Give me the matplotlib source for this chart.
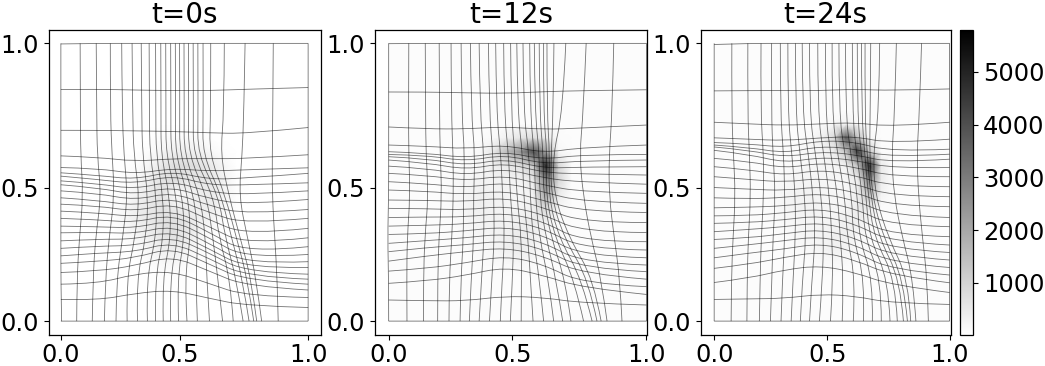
import numpy as np
import matplotlib
matplotlib.use("Agg")
import matplotlib.pyplot as plt
from matplotlib.path import Path
from matplotlib.patches import PathPatch

titles = ["t=0s", "t=12s", "t=24s"]
stations = [0, .15, .3, .45, .6, .75, 1]
tick_pos = [0, .48, 1]
tick_labels = ["0.0", "0.5", "1.0"]

# horizontal mesh lines: y at each x station
h_t0 = [
 [.998,1.0,1.0,1.0,1.0,1.0,1.0],
 [.834,.835,.832,.83,.83,.835,.841],
 [.687,.687,.685,.683,.678,.675,.697],
 [.595,.59,.575,.585,.585,.585,.599],
 [.553,.55,.53,.55,.54,.545,.552],
 [.534,.525,.51,.54,.51,.515,.532],
 [.522,.51,.495,.525,.49,.49,.498],
 [.505,.495,.475,.505,.465,.455,.469],
 [.491,.48,.455,.485,.44,.42,.438],
 [.469,.46,.435,.465,.415,.385,.402],
 [.444,.435,.415,.445,.39,.35,.370],
 [.421,.415,.395,.425,.365,.31,.334],
 [.396,.39,.375,.40,.34,.275,.300],
 [.370,.365,.355,.385,.32,.245,.268],
 [.342,.34,.335,.365,.30,.225,.240],
 [.318,.32,.315,.345,.28,.205,.214],
 [.289,.295,.295,.325,.26,.19,.193],
 [.262,.27,.272,.305,.245,.175,.169],
 [.235,.245,.25,.285,.225,.16,.151],
 [.208,.215,.228,.265,.205,.145,.133],
 [.175,.18,.20,.235,.18,.125,.112],
 [.133,.135,.17,.18,.135,.09,.085],
 [.078,.075,.10,.112,.082,.055,.049],
 [0,0,0,0,0,0,0],
]
h_t12 = [
 [.999,1.0,1.0,1.0,1.0,1.0,1.0],
 [.825,.825,.822,.82,.826,.83,.833],
 [.699,.692,.692,.70,.69,.695,.706],
 [.634,.63,.62,.635,.605,.626,.634],
 [.61,.605,.587,.611,.581,.60,.60],
 [.60,.597,.575,.60,.565,.578,.58],
 [.592,.585,.56,.585,.55,.555,.556],
 [.58,.57,.545,.57,.535,.53,.526],
 [.558,.55,.525,.55,.515,.50,.493],
 [.532,.525,.505,.525,.49,.465,.46],
 [.502,.495,.48,.50,.465,.43,.424],
 [.472,.468,.455,.47,.435,.395,.391],
 [.436,.435,.43,.445,.41,.355,.355],
 [.406,.405,.40,.415,.385,.32,.319],
 [.373,.375,.375,.39,.36,.285,.286],
 [.342,.345,.35,.365,.335,.26,.256],
 [.312,.315,.325,.34,.31,.235,.228],
 [.28,.29,.30,.315,.285,.21,.202],
 [.25,.265,.275,.29,.26,.19,.178],
 [.216,.235,.25,.265,.235,.17,.151],
 [.18,.19,.21,.235,.205,.135,.124],
 [.136,.145,.165,.195,.165,.12,.096],
 [.076,.073,.073,.09,.085,.065,.058],
 [0,0,0,0,0,0,0],
]
h_t24 = [
 [.996,1.0,1.0,1.0,1.0,1.0,1.0],
 [.829,.83,.83,.83,.835,.83,.836],
 [.716,.71,.705,.71,.715,.70,.716],
 [.66,.655,.65,.66,.665,.64,.655],
 [.643,.638,.625,.65,.645,.61,.619],
 [.634,.625,.605,.63,.62,.59,.601],
 [.627,.615,.59,.61,.60,.57,.583],
 [.615,.60,.57,.59,.58,.55,.553],
 [.586,.575,.55,.57,.555,.52,.52],
 [.556,.545,.525,.545,.525,.485,.484],
 [.52,.51,.50,.515,.495,.45,.448],
 [.481,.475,.47,.485,.465,.415,.412],
 [.444,.44,.445,.46,.435,.38,.373],
 [.408,.41,.415,.43,.405,.345,.34],
 [.379,.38,.39,.405,.375,.31,.304],
 [.352,.355,.365,.38,.35,.285,.274],
 [.322,.33,.34,.355,.325,.26,.247],
 [.294,.30,.315,.33,.30,.235,.22],
 [.262,.275,.29,.305,.275,.21,.193],
 [.228,.245,.26,.28,.25,.185,.166],
 [.19,.205,.23,.25,.22,.165,.138],
 [.139,.155,.185,.20,.175,.13,.103],
 [.078,.08,.082,.097,.09,.065,.06],
 [0,0,0,0,0,0,0],
]

# vertical mesh lines: x at each y station (rows ordered by y station)
v_t0 = [
 [.003,.064,.127,.176,.223,.268,.31,.35,.383,.414,.444,.476,.51,.552,.601,.654,.697,.737,.761,.78,.792,.812,.879,1],
 [0,.065,.13,.18,.225,.265,.305,.345,.38,.41,.44,.47,.50,.545,.59,.635,.685,.71,.735,.755,.77,.79,.875,1],
 [0,.075,.14,.195,.25,.30,.345,.385,.415,.445,.475,.50,.525,.555,.585,.615,.64,.665,.69,.71,.725,.755,.865,1],
 [0,.09,.163,.217,.27,.318,.353,.387,.414,.44,.468,.492,.515,.539,.563,.59,.617,.638,.65,.665,.68,.72,.855,1],
 [0,.08,.147,.207,.255,.295,.33,.36,.385,.405,.425,.445,.463,.48,.498,.516,.535,.553,.573,.60,.645,.733,.855,1],
 [0,.079,.145,.2,.248,.29,.327,.358,.384,.405,.425,.445,.464,.481,.499,.517,.536,.555,.576,.606,.66,.74,.857,1],
 [0,.078,.143,.2,.246,.288,.325,.357,.383,.404,.424,.444,.463,.48,.498,.516,.535,.554,.575,.606,.661,.745,.859,1],
]
v_t12 = [
 [0,.071,.135,.19,.234,.277,.313,.351,.391,.433,.472,.514,.56,.601,.64,.675,.707,.756,.789,.808,.824,.847,.905,1],
 [0,.07,.135,.19,.235,.28,.32,.36,.40,.44,.48,.515,.55,.585,.62,.65,.685,.72,.75,.775,.795,.825,.897,1],
 [-.004,.072,.14,.195,.245,.29,.33,.37,.41,.45,.485,.515,.54,.56,.585,.61,.63,.645,.66,.68,.70,.785,.875,1],
 [0,.083,.154,.206,.251,.29,.329,.368,.407,.442,.472,.497,.523,.549,.569,.585,.60,.61,.62,.63,.642,.755,.855,1],
 [0,.078,.145,.20,.25,.295,.335,.37,.405,.435,.465,.49,.52,.545,.565,.585,.60,.615,.625,.63,.637,.74,.855,1],
 [0,.077,.143,.197,.243,.283,.32,.354,.39,.418,.448,.475,.5,.523,.549,.567,.585,.60,.614,.638,.675,.755,.867,1],
 [0,.078,.142,.196,.242,.281,.317,.351,.387,.415,.446,.473,.497,.521,.547,.565,.584,.601,.614,.641,.687,.766,.873,1],
]
v_t24 = [
 [0,.072,.139,.192,.239,.284,.327,.366,.405,.447,.494,.544,.591,.634,.672,.71,.747,.778,.804,.821,.835,.857,.91,1],
 [0,.073,.14,.195,.245,.29,.335,.375,.415,.46,.505,.55,.60,.64,.675,.71,.74,.77,.79,.805,.825,.845,.905,1],
 [0,.08,.145,.20,.25,.30,.345,.39,.43,.465,.50,.535,.565,.59,.615,.64,.66,.68,.70,.72,.74,.80,.885,1],
 [0,.09,.155,.21,.26,.30,.345,.385,.42,.455,.49,.525,.555,.585,.61,.63,.645,.655,.665,.672,.685,.764,.868,1],
 [0,.082,.15,.21,.25,.295,.33,.365,.40,.43,.465,.495,.525,.555,.58,.605,.625,.64,.65,.66,.675,.754,.861,1],
 [0,.074,.142,.197,.243,.281,.313,.346,.375,.405,.44,.472,.50,.53,.558,.587,.608,.626,.64,.663,.70,.767,.872,1],
 [0,.075,.143,.199,.244,.281,.313,.345,.374,.405,.44,.473,.501,.53,.558,.587,.608,.626,.641,.665,.703,.774,.881,1],
]

# density read from the shading, on a coarse grid
dens_x = [.21,.26,.31,.36,.41,.46,.51,.56,.61,.66,.71,.76,.81]
dens_y = [.16,.21,.26,.31,.36,.41,.46,.51,.56,.61,.66,.71,.76]
bg = [10, 100, 100]
d_t0 = [
 [10,10,10,20,40,50,20,10,10,10,10,10,10],
 [10,10,30,80,150,180,120,40,10,10,10,10,10],
 [10,40,90,200,350,380,280,120,30,10,10,10,10],
 [30,100,220,380,600,700,520,220,70,20,10,10,10],
 [50,170,350,500,700,750,580,350,200,70,15,10,10],
 [60,180,400,520,650,400,350,350,400,180,30,10,10],
 [40,110,300,480,600,100,250,350,480,280,60,10,10],
 [20,50,190,400,650,800,500,600,550,300,50,10,10],
 [10,25,90,250,520,750,780,680,480,200,30,10,10],
 [10,10,30,110,240,380,400,320,180,60,10,10,10],
 [10,10,10,30,80,110,110,90,50,15,10,10,10],
 [10,10,10,10,10,20,20,20,10,10,10,10,10],
 [10,10,10,10,10,10,10,10,10,10,10,10,10],
]
d_t12 = [
 [100,100,100,100,100,100,100,100,100,100,100,100,100],
 [100,100,100,110,130,180,220,130,100,100,100,100,100],
 [100,100,110,150,220,350,450,300,120,100,100,100,100],
 [100,100,150,220,280,350,450,350,150,100,100,100,100],
 [100,120,220,300,320,300,350,450,350,120,100,100,100],
 [100,150,280,350,300,250,250,350,1000,200,100,100,100],
 [100,180,280,350,300,250,200,300,2200,500,100,100,100],
 [100,130,200,280,300,300,300,500,3000,900,100,100,100],
 [100,100,130,200,350,500,650,1200,5000,900,100,100,100],
 [100,100,100,180,600,1600,2400,4000,2200,200,100,100,100],
 [100,100,100,100,130,350,600,800,500,120,100,100,100],
 [100,100,100,100,100,100,100,100,100,100,100,100,100],
 [100,100,100,100,100,100,100,100,100,100,100,100,100],
]
d_t24 = [
 [100,100,100,100,100,100,100,100,100,100,100,100,100],
 [100,100,100,100,120,160,190,130,100,100,100,100,100],
 [100,100,100,130,180,260,330,280,120,100,100,100,100],
 [100,100,120,170,220,270,330,350,200,100,100,100,100],
 [100,110,160,220,250,240,250,330,380,180,100,100,100],
 [100,130,230,300,260,220,200,220,450,500,120,100,100],
 [100,150,250,300,270,220,200,180,350,1600,300,100,100],
 [100,120,180,250,250,220,200,200,400,3000,450,100,100],
 [100,100,110,160,200,220,250,300,1400,4800,500,100,100],
 [100,100,100,130,170,250,400,1300,4500,1200,120,100,100],
 [100,100,100,100,150,350,900,3800,1500,150,100,100,100],
 [100,100,100,100,100,120,200,300,150,100,100,100,100],
 [100,100,100,100,100,100,100,100,100,100,100,100,100],
]

vmin, vmax = 10, 5806
cbar_ticks = [1000, 2000, 3000, 4000, 5000]
x_limits = [(-.05, 1.05), (-.053, 1.002), (-.056, 1.004)]

W, H = 1045, 366
FS = 17.4
plt.rcParams.update({"font.size": FS, "axes.linewidth": 0.9})
fig = plt.figure(figsize=(W / 100, H / 100), dpi=100)

def box(l, r, t=29.5, b=335):
    return [l / W, 1 - b / H, (r - l) / W, (b - t) / H]

def draw_line(ax, xs, ys):
    # rounded corners at the read points: each one is a Bezier control point
    pts = np.column_stack([xs, ys])
    verts, codes = [pts[0]], [Path.MOVETO]
    for i in range(1, len(pts) - 1):
        end = pts[i + 1] if i == len(pts) - 2 else (pts[i] + pts[i + 1]) / 2
        verts += [pts[i], end]
        codes += [Path.CURVE3, Path.CURVE3]
    ax.add_patch(PathPatch(Path(verts, codes), fc="none", ec="k", lw=0.6, alpha=0.55))

boxes = [box(48.5, 320.5), box(375, 647), box(701, 950.5)]
hs = [h_t0, h_t12, h_t24]
vs = [v_t0, v_t12, v_t24]
ds = [d_t0, d_t12, d_t24]
gx = np.r_[0, dens_x, 1]
gy = np.r_[0, dens_y, 1]
for k in range(3):
    ax = fig.add_axes(boxes[k])
    Z = np.pad(np.array(ds[k], float), 1, constant_values=bg[k])
    pm = ax.pcolormesh(gx, gy, Z, shading="gouraud", cmap="gray_r", vmin=vmin, vmax=vmax)
    for row in hs[k]:
        draw_line(ax, stations, row)
    for col in np.array(vs[k]).T:
        draw_line(ax, col, stations)
    ax.set_xlim(*x_limits[k])
    ax.set_ylim(-.05, 1.05)
    ax.set_xticks(tick_pos, tick_labels)
    ax.set_yticks(tick_pos, tick_labels)
    ax.tick_params(axis="x", pad=2.5)
    ax.set_title(titles[k], fontsize=20, pad=5)

cax = fig.add_axes(box(960, 973.3))
cb = fig.colorbar(pm, cax=cax)
cb.set_ticks(cbar_ticks)
cb.ax.tick_params(labelsize=FS)
fig.savefig("out.png", dpi=100)
